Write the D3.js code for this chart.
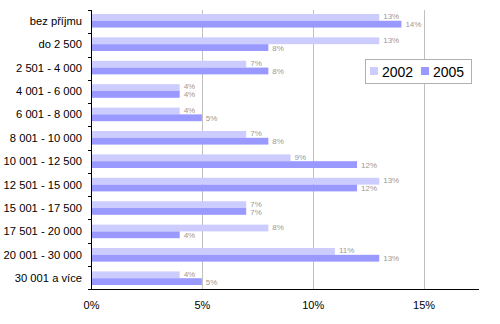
<!DOCTYPE html>
<html><head><meta charset="utf-8">
<script src="https://cdn.jsdelivr.net/npm/d3@7"></script>
<style>body{margin:0;background:#fff;font-family:"Liberation Sans",Arial,sans-serif;}</style>
</head><body><svg id="c" width="500" height="324"></svg>
<script>
const categories = ["bez příjmu","do 2 500","2 501 - 4 000","4 001 - 6 000","6 001 - 8 000","8 001 - 10 000","10 001 - 12 500","12 501 - 15 000","15 001 - 17 500","17 501 - 20 000","20 001 - 30 000","30 001 a více"];
const seriesNames = ["2002","2005"];
const values2002 = [13,13,7,4,4,7,9,13,7,8,11,4];
const values2005 = [14,8,8,4,5,8,12,12,7,4,13,5];
const xTicks = [0,5,10,15];
const colors = ["#CCCCFF","#9999FF"];

(function(){
const svg = d3.select("#c");
const pL = 91, pR = 479, pT = 10, pB = 289;
const x = d3.scaleLinear().domain([0,17.5]).range([pL,pR]);
const y = d3.scaleBand().domain(categories).range([pT,pB]).paddingInner(0.42).paddingOuter(0.17);
const ySub = d3.scaleBand().domain(seriesNames).range([0,y.bandwidth()]);
const step = (pB-pT)/categories.length;

// gridlines
svg.append("g").selectAll("line").data(xTicks.filter(d=>d>0)).join("line")
  .attr("x1",d=>Math.round(x(d))+0.5).attr("x2",d=>Math.round(x(d))+0.5)
  .attr("y1",pT).attr("y2",pB).attr("stroke","#C0C0C0").attr("stroke-width",1);

const series = [values2002, values2005];
const labelShift = [-1.5, -0.3];
series.forEach((vals,si)=>{
  const g = svg.append("g");
  g.selectAll("rect").data(vals).join("rect")
    .attr("x",x(0)).attr("y",(d,i)=>y(categories[i])+ySub(seriesNames[si]))
    .attr("width",d=>x(d)-x(0)).attr("height",ySub.bandwidth())
    .attr("fill",colors[si]);
  g.selectAll("text").data(vals).join("text")
    .attr("x",d=>x(d)+4).attr("y",(d,i)=>y(categories[i])+ySub(seriesNames[si])+ySub.bandwidth()+labelShift[si])
    .attr("font-size","8px").attr("fill","#999999")
    .text(d=>d+"%");
});

// y axis
const ya = svg.append("g");
ya.append("line").attr("x1",pL+0.5).attr("x2",pL+0.5).attr("y1",pT).attr("y2",pB).attr("stroke","#000");
ya.selectAll("line.t").data(d3.range(categories.length+1)).join("line").attr("class","t")
  .attr("x1",pL-3).attr("x2",pL).attr("y1",i=>Math.round(pT+i*step)+0.5).attr("y2",i=>Math.round(pT+i*step)+0.5).attr("stroke","#000");
ya.selectAll("text").data(categories).join("text")
  .attr("x",82).attr("y",d=>y(d)+y.bandwidth()/2+4)
  .attr("text-anchor","end").attr("font-size","11.2px").attr("fill","#000").text(d=>d);

// x axis
const xAxis = d3.axisBottom(x).tickValues(xTicks).tickFormat(d=>d+"%").tickSize(0).tickPadding(12);
const xa = svg.append("g").attr("transform",`translate(0,${pB+0.5})`).call(xAxis);
xa.select(".domain").attr("stroke","#000").attr("d",`M${pL},0H${pR}`);
xa.selectAll("text").attr("font-size","11px").attr("font-family","'Liberation Sans',Arial,sans-serif").attr("fill","#000");

// legend
const lg = svg.append("g");
lg.append("rect").attr("x",365.5).attr("y",59.5).attr("width",106).attr("height",24).attr("fill","#fff").attr("stroke","#B0B0B0");
const lx = [370,421];
seriesNames.forEach((s,i)=>{
  lg.append("rect").attr("x",lx[i]).attr("y",67).attr("width",8).attr("height",8).attr("fill",colors[i]);
  lg.append("text").attr("x",lx[i]+12).attr("y",76.5).attr("font-size","14px").attr("fill","#000").text(s);
});
})();
</script></body></html>
